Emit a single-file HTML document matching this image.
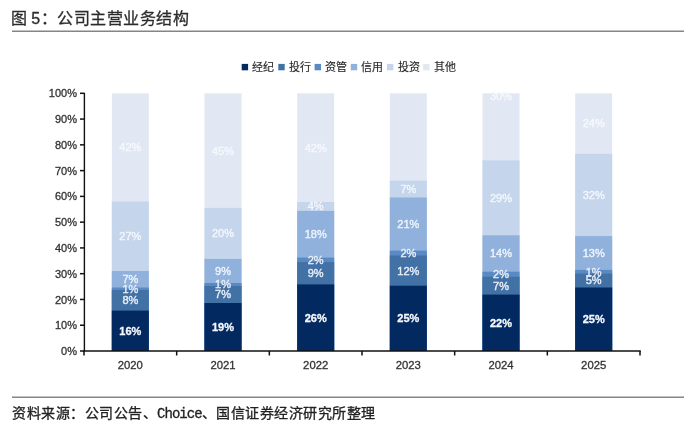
<!DOCTYPE html>
<html lang="zh-CN"><head><meta charset="utf-8"><title>公司主营业务结构</title>
<style>
html,body{margin:0;padding:0;background:#fff;}
body{width:700px;height:436px;position:relative;overflow:hidden;font-family:"Liberation Sans", sans-serif;}
.layer{position:absolute;left:0;top:0;width:700px;height:436px;will-change:transform;}
svg text{font-family:"Liberation Sans", sans-serif;}
.title{position:absolute;left:11.2px;top:9px;font-size:16px;line-height:20px;color:#2b2b2b;white-space:nowrap;letter-spacing:0.5px;-webkit-text-stroke:0.3px #2b2b2b;}
.sp{letter-spacing:-1px;}
.foot{position:absolute;left:12px;top:403px;font-size:14px;letter-spacing:0.5px;line-height:20px;color:#222;white-space:nowrap;-webkit-text-stroke:0.3px #222;}
.mono{font-family:"Liberation Mono",monospace;letter-spacing:-0.95px;}
</style></head>
<body>
<div class="layer">
<svg width="700" height="436" viewBox="0 0 700 436" style="position:absolute;left:0;top:0">
<rect x="111.83" y="93.30" width="37.00" height="257.70" fill="#e1e8f4"/>
<rect x="111.83" y="201.50" width="37.00" height="149.50" fill="#c4d5ec"/>
<rect x="111.83" y="271.00" width="37.00" height="80.00" fill="#8fb1dc"/>
<rect x="111.83" y="287.50" width="37.00" height="63.50" fill="#5a8ac4"/>
<rect x="111.83" y="290.00" width="37.00" height="61.00" fill="#4271a6"/>
<rect x="111.83" y="310.60" width="37.00" height="40.40" fill="#032a60"/>
<rect x="204.50" y="93.30" width="37.00" height="257.70" fill="#e1e8f4"/>
<rect x="204.50" y="207.90" width="37.00" height="143.10" fill="#c4d5ec"/>
<rect x="204.50" y="258.90" width="37.00" height="92.10" fill="#8fb1dc"/>
<rect x="204.50" y="283.00" width="37.00" height="68.00" fill="#5a8ac4"/>
<rect x="204.50" y="286.00" width="37.00" height="65.00" fill="#4271a6"/>
<rect x="204.50" y="303.00" width="37.00" height="48.00" fill="#032a60"/>
<rect x="297.17" y="93.30" width="37.00" height="257.70" fill="#e1e8f4"/>
<rect x="297.17" y="202.10" width="37.00" height="148.90" fill="#c4d5ec"/>
<rect x="297.17" y="210.90" width="37.00" height="140.10" fill="#8fb1dc"/>
<rect x="297.17" y="257.60" width="37.00" height="93.40" fill="#5a8ac4"/>
<rect x="297.17" y="262.10" width="37.00" height="88.90" fill="#4271a6"/>
<rect x="297.17" y="284.40" width="37.00" height="66.60" fill="#032a60"/>
<rect x="389.83" y="93.30" width="37.00" height="257.70" fill="#e1e8f4"/>
<rect x="389.83" y="180.60" width="37.00" height="170.40" fill="#c4d5ec"/>
<rect x="389.83" y="197.50" width="37.00" height="153.50" fill="#8fb1dc"/>
<rect x="389.83" y="250.60" width="37.00" height="100.40" fill="#5a8ac4"/>
<rect x="389.83" y="255.50" width="37.00" height="95.50" fill="#4271a6"/>
<rect x="389.83" y="285.70" width="37.00" height="65.30" fill="#032a60"/>
<rect x="482.50" y="93.30" width="37.00" height="257.70" fill="#e1e8f4"/>
<rect x="482.50" y="160.40" width="37.00" height="190.60" fill="#c4d5ec"/>
<rect x="482.50" y="235.30" width="37.00" height="115.70" fill="#8fb1dc"/>
<rect x="482.50" y="271.70" width="37.00" height="79.30" fill="#5a8ac4"/>
<rect x="482.50" y="276.70" width="37.00" height="74.30" fill="#4271a6"/>
<rect x="482.50" y="294.60" width="37.00" height="56.40" fill="#032a60"/>
<rect x="575.17" y="93.30" width="37.00" height="257.70" fill="#e1e8f4"/>
<rect x="575.17" y="153.80" width="37.00" height="197.20" fill="#c4d5ec"/>
<rect x="575.17" y="236.10" width="37.00" height="114.90" fill="#8fb1dc"/>
<rect x="575.17" y="269.90" width="37.00" height="81.10" fill="#5a8ac4"/>
<rect x="575.17" y="273.60" width="37.00" height="77.40" fill="#4271a6"/>
<rect x="575.17" y="287.50" width="37.00" height="63.50" fill="#032a60"/>
<text x="130.33" y="334.74" text-anchor="middle" font-size="11" font-weight="bold" fill="#f6f8fc" stroke="#f6f8fc" stroke-width="0.3">16%</text>
<text x="130.33" y="304.24" text-anchor="middle" font-size="11" font-weight="normal" fill="#e8eef6" stroke="#e8eef6" stroke-width="0.4">8%</text>
<text x="130.33" y="292.69" text-anchor="middle" font-size="11" font-weight="normal" fill="#e8eef6" stroke="#e8eef6" stroke-width="0.4">1%</text>
<text x="130.33" y="283.19" text-anchor="middle" font-size="11" font-weight="normal" fill="#eef3fa" stroke="#eef3fa" stroke-width="0.4">7%</text>
<text x="130.33" y="240.19" text-anchor="middle" font-size="11" font-weight="normal" fill="#f2f6fc" stroke="#f2f6fc" stroke-width="0.4">27%</text>
<text x="130.33" y="151.34" text-anchor="middle" font-size="11" font-weight="normal" fill="#f6f8fc" stroke="#f6f8fc" stroke-width="0.4">42%</text>
<text x="223.00" y="330.94" text-anchor="middle" font-size="11" font-weight="bold" fill="#f6f8fc" stroke="#f6f8fc" stroke-width="0.3">19%</text>
<text x="223.00" y="298.44" text-anchor="middle" font-size="11" font-weight="normal" fill="#e8eef6" stroke="#e8eef6" stroke-width="0.4">7%</text>
<text x="223.00" y="288.44" text-anchor="middle" font-size="11" font-weight="normal" fill="#e8eef6" stroke="#e8eef6" stroke-width="0.4">1%</text>
<text x="223.00" y="274.89" text-anchor="middle" font-size="11" font-weight="normal" fill="#eef3fa" stroke="#eef3fa" stroke-width="0.4">9%</text>
<text x="223.00" y="237.34" text-anchor="middle" font-size="11" font-weight="normal" fill="#f2f6fc" stroke="#f2f6fc" stroke-width="0.4">20%</text>
<text x="223.00" y="154.54" text-anchor="middle" font-size="11" font-weight="normal" fill="#f6f8fc" stroke="#f6f8fc" stroke-width="0.4">45%</text>
<text x="315.67" y="321.64" text-anchor="middle" font-size="11" font-weight="bold" fill="#f6f8fc" stroke="#f6f8fc" stroke-width="0.3">26%</text>
<text x="315.67" y="277.19" text-anchor="middle" font-size="11" font-weight="normal" fill="#e8eef6" stroke="#e8eef6" stroke-width="0.4">9%</text>
<text x="315.67" y="263.79" text-anchor="middle" font-size="11" font-weight="normal" fill="#e8eef6" stroke="#e8eef6" stroke-width="0.4">2%</text>
<text x="315.67" y="238.19" text-anchor="middle" font-size="11" font-weight="normal" fill="#eef3fa" stroke="#eef3fa" stroke-width="0.4">18%</text>
<text x="315.67" y="210.44" text-anchor="middle" font-size="11" font-weight="normal" fill="#f2f6fc" stroke="#f2f6fc" stroke-width="0.4">4%</text>
<text x="315.67" y="151.64" text-anchor="middle" font-size="11" font-weight="normal" fill="#f6f8fc" stroke="#f6f8fc" stroke-width="0.4">42%</text>
<text x="408.33" y="322.29" text-anchor="middle" font-size="11" font-weight="bold" fill="#f6f8fc" stroke="#f6f8fc" stroke-width="0.3">25%</text>
<text x="408.33" y="274.54" text-anchor="middle" font-size="11" font-weight="normal" fill="#e8eef6" stroke="#e8eef6" stroke-width="0.4">12%</text>
<text x="408.33" y="256.99" text-anchor="middle" font-size="11" font-weight="normal" fill="#e8eef6" stroke="#e8eef6" stroke-width="0.4">2%</text>
<text x="408.33" y="227.99" text-anchor="middle" font-size="11" font-weight="normal" fill="#eef3fa" stroke="#eef3fa" stroke-width="0.4">21%</text>
<text x="408.33" y="192.99" text-anchor="middle" font-size="11" font-weight="normal" fill="#f2f6fc" stroke="#f2f6fc" stroke-width="0.4">7%</text>
<text x="501.00" y="326.74" text-anchor="middle" font-size="11" font-weight="bold" fill="#f6f8fc" stroke="#f6f8fc" stroke-width="0.3">22%</text>
<text x="501.00" y="289.59" text-anchor="middle" font-size="11" font-weight="normal" fill="#e8eef6" stroke="#e8eef6" stroke-width="0.4">7%</text>
<text x="501.00" y="278.14" text-anchor="middle" font-size="11" font-weight="normal" fill="#e8eef6" stroke="#e8eef6" stroke-width="0.4">2%</text>
<text x="501.00" y="257.44" text-anchor="middle" font-size="11" font-weight="normal" fill="#eef3fa" stroke="#eef3fa" stroke-width="0.4">14%</text>
<text x="501.00" y="201.79" text-anchor="middle" font-size="11" font-weight="normal" fill="#f2f6fc" stroke="#f2f6fc" stroke-width="0.4">29%</text>
<text x="501.00" y="99.94" text-anchor="middle" font-size="11" font-weight="normal" fill="#f6f8fc" stroke="#f6f8fc" stroke-width="0.4">30%</text>
<text x="593.67" y="323.19" text-anchor="middle" font-size="11" font-weight="bold" fill="#f6f8fc" stroke="#f6f8fc" stroke-width="0.3">25%</text>
<text x="593.67" y="284.49" text-anchor="middle" font-size="11" font-weight="normal" fill="#e8eef6" stroke="#e8eef6" stroke-width="0.4">5%</text>
<text x="593.67" y="275.69" text-anchor="middle" font-size="11" font-weight="normal" fill="#e8eef6" stroke="#e8eef6" stroke-width="0.4">1%</text>
<text x="593.67" y="256.94" text-anchor="middle" font-size="11" font-weight="normal" fill="#eef3fa" stroke="#eef3fa" stroke-width="0.4">13%</text>
<text x="593.67" y="198.89" text-anchor="middle" font-size="11" font-weight="normal" fill="#f2f6fc" stroke="#f2f6fc" stroke-width="0.4">32%</text>
<text x="593.67" y="127.49" text-anchor="middle" font-size="11" font-weight="normal" fill="#f6f8fc" stroke="#f6f8fc" stroke-width="0.4">24%</text>
<line x1="84.4" y1="92.7" x2="84.4" y2="351.7" stroke="#111" stroke-width="1.4"/>
<line x1="83.25" y1="351.0" x2="640.75" y2="351.0" stroke="#111" stroke-width="1.5"/>
<line x1="80" y1="351.00" x2="84.0" y2="351.00" stroke="#111" stroke-width="1.5"/>
<text x="77" y="355.10" text-anchor="end" font-size="11" fill="#333" stroke="#333" stroke-width="0.3">0%</text>
<line x1="80" y1="325.23" x2="84.0" y2="325.23" stroke="#111" stroke-width="1.5"/>
<text x="77" y="329.33" text-anchor="end" font-size="11" fill="#333" stroke="#333" stroke-width="0.3">10%</text>
<line x1="80" y1="299.46" x2="84.0" y2="299.46" stroke="#111" stroke-width="1.5"/>
<text x="77" y="303.56" text-anchor="end" font-size="11" fill="#333" stroke="#333" stroke-width="0.3">20%</text>
<line x1="80" y1="273.69" x2="84.0" y2="273.69" stroke="#111" stroke-width="1.5"/>
<text x="77" y="277.79" text-anchor="end" font-size="11" fill="#333" stroke="#333" stroke-width="0.3">30%</text>
<line x1="80" y1="247.92" x2="84.0" y2="247.92" stroke="#111" stroke-width="1.5"/>
<text x="77" y="252.02" text-anchor="end" font-size="11" fill="#333" stroke="#333" stroke-width="0.3">40%</text>
<line x1="80" y1="222.15" x2="84.0" y2="222.15" stroke="#111" stroke-width="1.5"/>
<text x="77" y="226.25" text-anchor="end" font-size="11" fill="#333" stroke="#333" stroke-width="0.3">50%</text>
<line x1="80" y1="196.38" x2="84.0" y2="196.38" stroke="#111" stroke-width="1.5"/>
<text x="77" y="200.48" text-anchor="end" font-size="11" fill="#333" stroke="#333" stroke-width="0.3">60%</text>
<line x1="80" y1="170.61" x2="84.0" y2="170.61" stroke="#111" stroke-width="1.5"/>
<text x="77" y="174.71" text-anchor="end" font-size="11" fill="#333" stroke="#333" stroke-width="0.3">70%</text>
<line x1="80" y1="144.84" x2="84.0" y2="144.84" stroke="#111" stroke-width="1.5"/>
<text x="77" y="148.94" text-anchor="end" font-size="11" fill="#333" stroke="#333" stroke-width="0.3">80%</text>
<line x1="80" y1="119.07" x2="84.0" y2="119.07" stroke="#111" stroke-width="1.5"/>
<text x="77" y="123.17" text-anchor="end" font-size="11" fill="#333" stroke="#333" stroke-width="0.3">90%</text>
<line x1="80" y1="93.30" x2="84.0" y2="93.30" stroke="#111" stroke-width="1.5"/>
<text x="77" y="97.40" text-anchor="end" font-size="11" fill="#333" stroke="#333" stroke-width="0.3">100%</text>
<line x1="84.00" y1="351.0" x2="84.00" y2="355.5" stroke="#111" stroke-width="1.5"/>
<line x1="176.67" y1="351.0" x2="176.67" y2="355.5" stroke="#111" stroke-width="1.5"/>
<line x1="269.33" y1="351.0" x2="269.33" y2="355.5" stroke="#111" stroke-width="1.5"/>
<line x1="362.00" y1="351.0" x2="362.00" y2="355.5" stroke="#111" stroke-width="1.5"/>
<line x1="454.67" y1="351.0" x2="454.67" y2="355.5" stroke="#111" stroke-width="1.5"/>
<line x1="547.33" y1="351.0" x2="547.33" y2="355.5" stroke="#111" stroke-width="1.5"/>
<line x1="640.00" y1="351.0" x2="640.00" y2="355.5" stroke="#111" stroke-width="1.5"/>
<text x="130.33" y="369.10" text-anchor="middle" font-size="11.3" fill="#333" stroke="#333" stroke-width="0.3">2020</text>
<text x="223.00" y="369.10" text-anchor="middle" font-size="11.3" fill="#333" stroke="#333" stroke-width="0.3">2021</text>
<text x="315.67" y="369.10" text-anchor="middle" font-size="11.3" fill="#333" stroke="#333" stroke-width="0.3">2022</text>
<text x="408.33" y="369.10" text-anchor="middle" font-size="11.3" fill="#333" stroke="#333" stroke-width="0.3">2023</text>
<text x="501.00" y="369.10" text-anchor="middle" font-size="11.3" fill="#333" stroke="#333" stroke-width="0.3">2024</text>
<text x="593.67" y="369.10" text-anchor="middle" font-size="11.3" fill="#333" stroke="#333" stroke-width="0.3">2025</text>
<rect x="241.70" y="63.9" width="6.4" height="6.4" fill="#032a60"/>
<text x="252.30" y="70.6" font-size="11" fill="#2a2a2a" stroke="#2a2a2a" stroke-width="0.15">经纪</text>
<rect x="278.30" y="63.9" width="6.4" height="6.4" fill="#4271a6"/>
<text x="288.90" y="70.6" font-size="11" fill="#2a2a2a" stroke="#2a2a2a" stroke-width="0.15">投行</text>
<rect x="314.60" y="63.9" width="6.4" height="6.4" fill="#5a8ac4"/>
<text x="325.20" y="70.6" font-size="11" fill="#2a2a2a" stroke="#2a2a2a" stroke-width="0.15">资管</text>
<rect x="350.80" y="63.9" width="6.4" height="6.4" fill="#8fb1dc"/>
<text x="361.40" y="70.6" font-size="11" fill="#2a2a2a" stroke="#2a2a2a" stroke-width="0.15">信用</text>
<rect x="386.90" y="63.9" width="6.4" height="6.4" fill="#c4d5ec"/>
<text x="397.50" y="70.6" font-size="11" fill="#2a2a2a" stroke="#2a2a2a" stroke-width="0.15">投资</text>
<rect x="423.10" y="63.9" width="6.4" height="6.4" fill="#e1e8f4"/>
<text x="433.70" y="70.6" font-size="11" fill="#2a2a2a" stroke="#2a2a2a" stroke-width="0.15">其他</text>
<line x1="12" y1="31.2" x2="684" y2="31.2" stroke="#858585" stroke-width="1.5"/>
<line x1="12" y1="397.3" x2="684" y2="397.3" stroke="#858585" stroke-width="1.5"/>
</svg>
<div class="title">图<span class="sp"> </span>5：公司主营业务结构</div>
<div class="foot">资料来源：公司公告、<span class="mono">Choice</span>、国信证券经济研究所整理</div>
</div>
</body></html>
